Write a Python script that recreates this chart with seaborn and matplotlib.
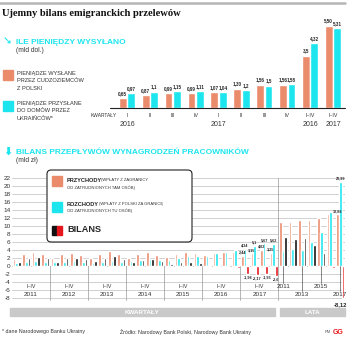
import matplotlib
matplotlib.use("Agg")
import matplotlib.pyplot as plt
import seaborn as sns
import pandas as pd
import numpy as np
from matplotlib.patches import FancyBboxPatch, Rectangle

# ---------------- data ----------------
top_periods = ["I", "II", "III", "IV", "I ", "II ", "III ", "IV ", "I–IV", "I–IV "]
top_sent = [0.65, 0.87, 0.99, 0.99, 1.07, 1.30, 1.56, 1.56, 3.5, 5.50]
top_recv = [0.97, 1.1, 1.15, 1.11, 1.04, 1.2, 1.5, 1.58, 4.32, 5.31]
top_sent_lbl = ["0,65", "0,87", "0,99", "0,99", "1,07", "1,30", "1,56", "1,56", "3,5", "5,50"]
top_recv_lbl = ["0,97", "1,1", "1,15", "1,11", "1,04", "1,2", "1,5", "1,58", "4,32", "5,31"]

years = ["2011", "2012", "2013", "2014", "2015", "2016", "2017"]
q_income = [1.8, 2.9, 3.4, 2.9,  1.9, 3.0, 3.3, 2.8,  2.0, 3.0, 3.7, 2.9,
            2.1, 3.0, 3.6, 2.8,  2.2, 3.0, 3.5, 3.2,  2.7, 3.2, 3.6, 3.5,
            2.44, 3.15, 4.02, 3.25]
q_outgo = [0.7, 0.9, 1.2, 0.95,  0.9, 1.0, 1.25, 1.1,  0.8, 1.0, 1.2, 1.1,
           1.2, 1.4, 1.8, 1.6,  1.6, 2.0, 2.4, 2.5,  2.5, 3.3, 3.6, 4.1,
           4.34, 5.1, 5.67, 5.62]
q_balance = [1.1, 2.0, 2.2, 1.95,  1.0, 2.0, 2.05, 1.7,  1.2, 2.0, 2.5, 1.8,
             0.9, 1.6, 1.8, 1.2,  0.6, 1.0, 1.1, 0.7,  0.2, -0.1, 0.0, -0.6,
             -1.98, -2.17, -1.93, -2.6]
y_income = [11.0, 11.0, 11.5, 11.5, 12.0, 13.0, 12.88]
y_outgo = [3.75, 4.25, 4.1, 6.0, 8.5, 13.5, 20.99]
y_balance = [7.25, 6.75, 7.0, 5.25, 3.25, -0.5, -8.12]

ORANGE = "#EA8B6C"
CYAN = "#1DE5EE"
RED = "#E5161C"
GRID = "#BDBDBD"

W, H = 358, 338
fig = plt.figure(figsize=(W / 100, H / 100), dpi=100)
sns.set_style("white")
plt.rcParams["font.family"] = ["Liberation Sans", "DejaVu Sans"]


def fx(x):
    return x / W


def fy(y):
    return 1 - y / H


def txt(x, y, s, **kw):
    kw.setdefault("va", "center")
    kw.setdefault("ha", "left")
    fig.text(fx(x), fy(y), s, **kw)


# header line and title
fig.add_artist(plt.Line2D([0, fx(345)], [fy(3), fy(3)], color="#B5B5B5", lw=1.8))
txt(2, 14, "Ujemny bilans emigranckich przelewów", family=["Liberation Serif"],
    fontweight="bold", fontsize=7.6, color="#111111")

# ---------------- top section ----------------
txt(3, 42, "➘", color=CYAN, fontsize=8, family=["DejaVu Sans"], fontweight="bold")
txt(16, 42, "ILE PIENIĘDZY WYSYŁANO", color=CYAN, fontsize=6.0, fontweight="bold")
txt(16, 51, "(mld dol.)", color="#333333", fontsize=4.8)

fig.add_artist(Rectangle((fx(3), fy(80)), fx(10), 10 / H, color=ORANGE))
for i, line in enumerate(["PIENIĄDZE WYSŁANE", "PRZEZ CUDZOZIEMCÓW", "Z POLSKI"]):
    txt(17, 73 + i * 7.5, line, fontsize=4.1, color="#333333")
fig.add_artist(Rectangle((fx(3), fy(111)), fx(10), 10 / H, color=CYAN))
for i, line in enumerate(["PIENIĄDZE PRZYSŁANE", "DO DOMÓW PRZEZ", "UKRAIŃCÓW*"]):
    txt(17, 104 + i * 7.0, line, fontsize=4.1, color="#333333")

top_df = pd.DataFrame({
    "period": top_periods * 2,
    "val": top_sent + top_recv,
    "series": ["sent"] * len(top_periods) + ["recv"] * len(top_periods),
})
x_left, x_right = 115.5, 344.5
ax1 = fig.add_axes([fx(x_left), fy(108), (x_right - x_left) / W, (108 - 18) / H])
sns.barplot(data=top_df, x="period", y="val", hue="series", order=top_periods,
            hue_order=["sent", "recv"], palette=[ORANGE, CYAN], width=0.74,
            gap=0.08, ax=ax1, legend=False, saturation=1)
ax1.set_xlim(-0.5, len(top_periods) - 0.5)
ax1.set_ylim(0, (108 - 18) / 15)
ax1.axis("off")
ax1.bar_label(ax1.containers[0], labels=top_sent_lbl, fontsize=3.3, fontweight="bold", padding=1.5)
ax1.bar_label(ax1.containers[1], labels=top_recv_lbl, fontsize=3.3, fontweight="bold", padding=1.5)
fig.add_artist(plt.Line2D([fx(110), fx(345)], [fy(108), fy(108)], color="#222222", lw=0.8))

step = (x_right - x_left) / len(top_periods)
txt(104, 115, "KWARTAŁY", fontsize=3.5, ha="center", color="#333333")
for i, p in enumerate(top_periods):
    txt(x_left + step * (i + 0.5), 115, p.strip(), fontsize=3.8, ha="center", color="#333333")
for x, s in [(x_left + step * 0.5, "2016"), (x_left + step * 4.5, "2017"),
             (x_left + step * 8.5, "2016"), (x_left + step * 9.5, "2017")]:
    txt(x, 124, s, fontsize=5, ha="center", color="#333333")

# ---------------- bottom section ----------------
txt(3, 152, "⬇", color=CYAN, fontsize=8, family=["DejaVu Sans"], fontweight="bold")
txt(16, 152, "BILANS PRZEPŁYWÓW WYNAGRODZEŃ PRACOWNIKÓW", color=CYAN, fontsize=6.0, fontweight="bold")
txt(16, 161, "(mld zł)", color="#333333", fontsize=4.8)

cats = [f"{y}Q{q}" for y in years for q in range(1, 5)] + [f"Y{y}" for y in years]
inc = q_income + y_income
out = q_outgo + y_outgo
bal = q_balance + y_balance
bdf = pd.DataFrame({
    "cat": cats * 3,
    "val": inc + out + bal,
    "series": ["inc"] * len(cats) + ["out"] * len(cats) + ["bal"] * len(cats),
})
bx_left, bx_right = 12, 345
y_top_px, y_bot_px = 176, 302
px_per_unit = 4.0
ax2 = fig.add_axes([fx(bx_left), fy(y_bot_px), (bx_right - bx_left) / W, (y_bot_px - y_top_px) / H])
ax2.set_ylim(-(y_bot_px - 266) / px_per_unit, (266 - y_top_px) / px_per_unit)
for v in range(-8, 23, 2):
    ax2.axhline(v, color=GRID, lw=0.5, zorder=0)
sns.barplot(data=bdf, x="cat", y="val", hue="series", order=cats,
            hue_order=["inc", "out", "bal"], palette=[ORANGE, CYAN, "#111111"],
            width=0.84, ax=ax2, legend=False, saturation=1, zorder=3)
for p in ax2.containers[2]:
    if p.get_height() < 0:
        p.set_facecolor(RED)
ax2.set_xlim(-0.5, len(cats) - 0.5)
for s in ax2.spines.values():
    s.set_visible(False)
ax2.set_xticks([])
ax2.set_yticks(range(-8, 23, 2))
ax2.set_yticklabels([str(v) for v in range(-8, 23, 2)], fontsize=4.6, color="#333333")
ax2.tick_params(axis="y", length=0, pad=1)
ax2.set_xlabel("")
ax2.set_ylabel("")
ax2.axhline(0, color=GRID, lw=0.6, zorder=1)

bstep = (bx_right - bx_left) / len(cats)
# vertical separators
for k in range(1, 7):
    xs = bx_left + bstep * 4 * k
    fig.add_artist(plt.Line2D([fx(xs), fx(xs)], [fy(266), fy(300)], color="#999999", lw=0.5))
xd = bx_left + bstep * 28
fig.add_artist(plt.Line2D([fx(xd), fx(xd)], [fy(178), fy(300)], color="#999999", lw=0.5))
for k, y in enumerate(years):
    xc = bx_left + bstep * (4 * k + 2)
    txt(xc, 287, "I–IV", fontsize=3.8, ha="center", color="#333333")
    txt(xc, 295, y, fontsize=4.6, ha="center", color="#333333")
for k, y in enumerate(years):
    if k % 2 == 0:
        xc = bx_left + bstep * (28 + k + 0.5)
        ylab = 287 if k % 4 == 0 else 295
        fig.add_artist(plt.Line2D([fx(xc), fx(xc)], [fy(266), fy(ylab - 4)], color="#555555", lw=0.5))
        txt(xc, ylab, y, fontsize=4.6, ha="center", color="#333333")

# value labels on bottom chart
lab_kw = dict(fontsize=2.7, fontweight="bold", padding=1)
inc_l = [""] * len(cats)
out_l = [""] * len(cats)
bal_l = [""] * len(cats)
for i, (a, b, c) in enumerate(zip(["2,44", "3,15", "4,02", "3,25"], ["4,34", "5,1", "5,67", "5,62"],
                                   ["-1,98", "-2,17", "-1,93", "-2,6"])):
    inc_l[24 + i] = a
    out_l[24 + i] = b
    bal_l[24 + i] = c
inc_l[34] = "12,88"
out_l[34] = "20,99"
ax2.bar_label(ax2.containers[0], labels=inc_l, **lab_kw)
ax2.bar_label(ax2.containers[1], labels=out_l, **lab_kw)
ax2.bar_label(ax2.containers[2], labels=bal_l, **lab_kw)
txt(bx_left + bstep * 34.5, 305, "-8,12", fontsize=4.2, fontweight="bold", ha="center")

# legend box
box = FancyBboxPatch((fx(47), fy(242)), fx(145), 72 / H, boxstyle="round,pad=0,rounding_size=0.012",
                     transform=fig.transFigure, facecolor="white", edgecolor="#222222", lw=0.8, zorder=10)
fig.add_artist(box)
fig.add_artist(Rectangle((fx(52), fy(186)), fx(10), 10 / H, color=ORANGE, zorder=11))
fig.add_artist(Rectangle((fx(52), fy(212)), fx(10), 10 / H, color=CYAN, zorder=11))
fig.add_artist(Rectangle((fx(52), fy(235)), fx(5), 9 / H, color="#111111", zorder=11))
fig.add_artist(Rectangle((fx(57), fy(235)), fx(5), 9 / H, color=RED, zorder=11))
txt(67, 180, "PRZYCHODY", fontsize=4.1, fontweight="bold", zorder=12)
txt(101, 180.5, "(WPŁATY Z ZAGRANICY", fontsize=3.0, color="#333333", zorder=12)
txt(67, 187.5, "OD ZATRUDNIONYCH TAM OSÓB)", fontsize=3.0, color="#333333", zorder=12)
txt(67, 204, "ROZCHODY", fontsize=4.1, fontweight="bold", zorder=12)
txt(99, 204.5, "(WPŁATY Z POLSKI ZA GRANICĘ", fontsize=3.0, color="#333333", zorder=12)
txt(67, 211, "OD ZATRUDNIONYCH TU OSÓB)", fontsize=3.0, color="#333333", zorder=12)
txt(67, 230, "BILANS", fontsize=6.6, fontweight="bold", zorder=12)

# bottom bands
fig.add_artist(Rectangle((fx(10), fy(316)), fx(265), 8 / H, color="#C9C9C9"))
fig.add_artist(Rectangle((fx(280), fy(316)), fx(65), 8 / H, color="#C9C9C9"))
txt(142, 312, "KWARTAŁY", fontsize=4.5, fontweight="bold", color="white", ha="center")
txt(312, 312, "LATA", fontsize=4.5, fontweight="bold", color="white", ha="center")

# footer
txt(2, 332, "* dane Narodowego Banku Ukrainy", fontsize=3.8, color="#333333")
txt(120, 332, "Źródło: Narodowy Bank Polski, Narodowy Bank Ukrainy", fontsize=3.8, color="#333333")
txt(325, 332, "RM", fontsize=2.8, color="#555555")
txt(333, 332, "GG", fontsize=5, color=RED, fontweight="bold")

fig.savefig("out.png", dpi=100)
